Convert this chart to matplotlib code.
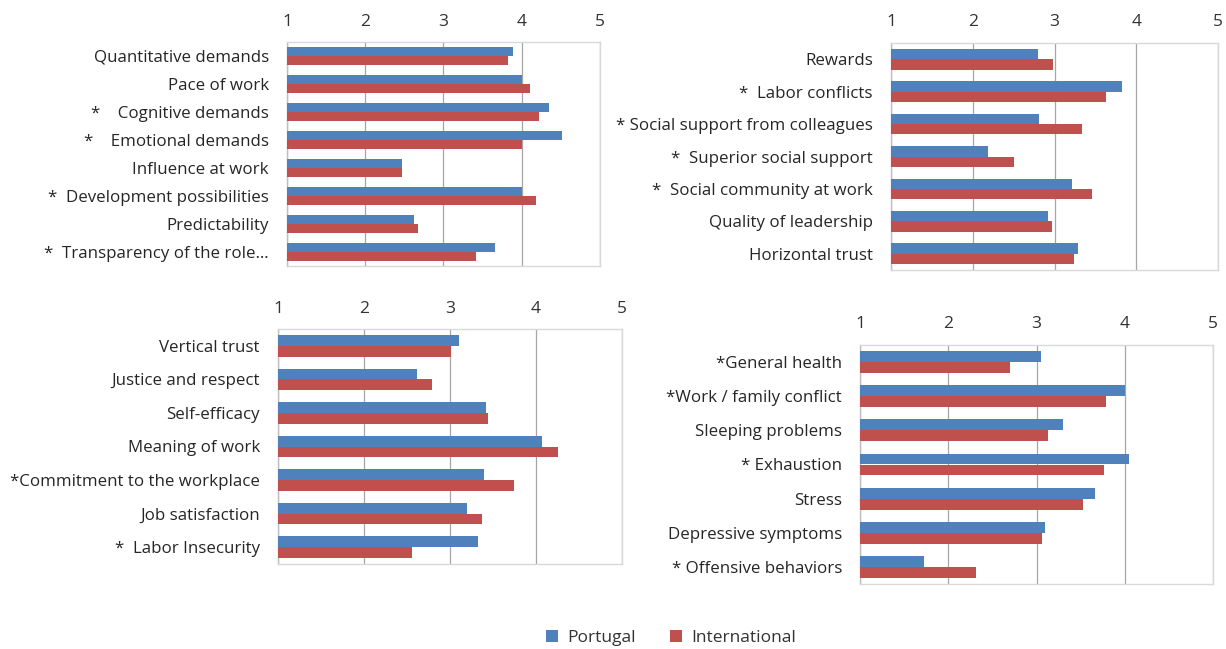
import matplotlib
matplotlib.use('Agg')
import matplotlib.pyplot as plt
from matplotlib.patches import Patch
import numpy as np

# ── Data ───────────────────────────────────────────────────────────────────────
cats_demands = ['Quantitative demands', 'Pace of work', '*    Cognitive demands',
                '*    Emotional demands', 'Influence at work',
                '*  Development possibilities', 'Predictability',
                '*  Transparency of the role…']
pt_demands   = [3.89, 4.00, 4.35, 4.52, 2.47, 4.00, 2.62, 3.66]
int_demands  = [3.82, 4.10, 4.22, 4.00, 2.47, 4.18, 2.68, 3.42]

cats_social  = ['Rewards', '*  Labor conflicts', '* Social support from colleagues',
                '*  Superior social support', '*  Social community at work',
                'Quality of leadership', 'Horizontal trust']
pt_social    = [2.80, 3.82, 2.81, 2.19, 3.22, 2.92, 3.29]
int_social   = [2.98, 3.63, 3.34, 2.51, 3.46, 2.97, 3.24]

cats_values  = ['Vertical trust', 'Justice and respect', 'Self-efficacy',
                'Meaning of work', '*Commitment to the workplace',
                'Job satisfaction', '*  Labor Insecurity']
pt_values    = [3.10, 2.62, 3.42, 4.07, 3.39, 3.20, 3.32]
int_values   = [3.01, 2.79, 3.44, 4.26, 3.74, 3.37, 2.56]

cats_health  = ['*General health', '*Work / family conflict', 'Sleeping problems',
                '* Exhaustion', 'Stress', 'Depressive symptoms',
                '* Offensive behaviors']
pt_health    = [3.05, 4.00, 3.30, 4.05, 3.66, 3.10, 1.73]
int_health   = [2.70, 3.79, 3.13, 3.77, 3.53, 3.06, 2.32]

ticks        = [1, 2, 3, 4, 5]
series_names = ['Portugal', 'International']

# ── Style ──────────────────────────────────────────────────────────────────────
BLUE  = '#4F81BD'
RED   = '#C0504D'
GRID  = '#a6a6a6'
FRAME = '#d9d9d9'
plt.rcParams['font.family'] = ['Open Sans', 'DejaVu Sans']

fig = plt.figure(figsize=(12.26, 6.49), dpi=100)

W, H = 1226, 649
panels = [
    # (categories, portugal, international, left px, right px, top px, bottom px)
    (cats_demands, pt_demands, int_demands, 287, 600, 42, 266),
    (cats_social,  pt_social,  int_social,  891, 1218, 43, 270),
    (cats_values,  pt_values,  int_values,  278, 622, 329, 564),
    (cats_health,  pt_health,  int_health,  860, 1213, 345, 584),
]

BAR_H = 0.32

for cats, pt, intl, x0, x1, y0, y1 in panels:
    ax = fig.add_axes([x0 / W, (H - y1) / H, (x1 - x0) / W, (y1 - y0) / H])
    y = np.arange(len(cats))
    ax.barh(y - BAR_H / 2, pt, height=BAR_H, left=0, color=BLUE, zorder=3)
    ax.barh(y + BAR_H / 2, intl, height=BAR_H, left=0, color=RED, zorder=3)
    ax.set_xlim(1, 5)
    ax.set_ylim(len(cats) - 0.5, -0.5)
    ax.set_yticks(y)
    ax.set_yticklabels(cats, fontsize=12.2, color='#262626')
    ax.set_xticks(ticks)
    ax.set_xticklabels([str(t) for t in ticks], fontsize=12.5, color='#333333')
    ax.xaxis.tick_top()
    ax.tick_params(axis='x', length=0, pad=9)
    ax.tick_params(axis='y', length=0, pad=13)
    ax.grid(axis='x', color=GRID, linewidth=0.9, zorder=0)
    for s in ax.spines.values():
        s.set_color(FRAME)
        s.set_linewidth(1.0)
    ax.spines['left'].set_color('#bfbfbf')

# ── Legend ─────────────────────────────────────────────────────────────────────
handles = [Patch(facecolor=BLUE), Patch(facecolor=RED)]
fig.legend(handles, series_names, loc='center', bbox_to_anchor=(671 / W, (H - 638) / H),
           ncol=2, frameon=False, fontsize=12.5, handlelength=0.7, handleheight=0.7,
           handletextpad=0.5, columnspacing=2.0, labelcolor='#333333')

plt.savefig('out.png', dpi=100)
